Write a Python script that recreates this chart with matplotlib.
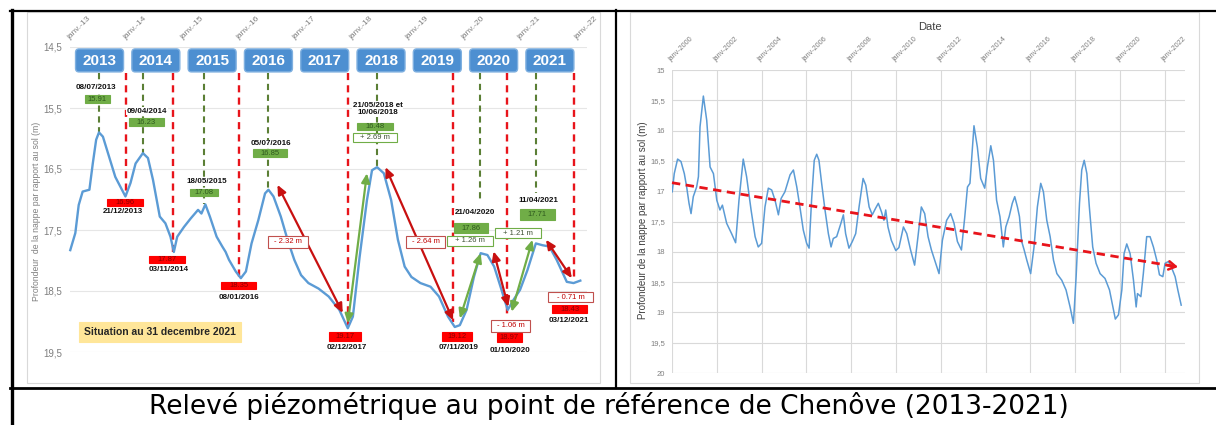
import matplotlib
matplotlib.use('Agg')
import matplotlib.pyplot as plt
from matplotlib.patches import Rectangle, FancyBboxPatch
from matplotlib.lines import Line2D

plt.rcParams['font.family'] = ['Liberation Sans', 'DejaVu Sans']

# ---------------- data: left chart (2013-2021) ----------------
left_years = [2012.98, 2013.07, 2013.13, 2013.20, 2013.32, 2013.38, 2013.44, 2013.49, 2013.56, 2013.65,
              2013.78, 2013.87, 2013.96, 2014.05, 2014.14, 2014.27, 2014.36, 2014.45, 2014.57, 2014.67,
              2014.76, 2014.82, 2014.88, 2015.00, 2015.12, 2015.25, 2015.31, 2015.38, 2015.46, 2015.58,
              2015.68, 2015.74, 2015.80, 2015.92, 2016.01, 2016.10, 2016.20, 2016.32, 2016.44, 2016.50,
              2016.59, 2016.72, 2016.84, 2016.96, 2017.08, 2017.21, 2017.39, 2017.57, 2017.76, 2017.91,
              2018.00, 2018.12, 2018.25, 2018.34, 2018.43, 2018.55, 2018.68, 2018.80, 2018.92, 2019.04,
              2019.20, 2019.38, 2019.53, 2019.69, 2019.81, 2019.90, 2020.02, 2020.15, 2020.27, 2020.39,
              2020.51, 2020.64, 2020.75, 2020.85, 2020.97, 2021.10, 2021.25, 2021.37, 2021.49, 2021.62,
              2021.80, 2021.92, 2022.04]
left_depth = [17.83, 17.55, 17.09, 16.87, 16.84, 16.41, 16.02, 15.90, 15.97, 16.24,
              16.63, 16.79, 16.95, 16.73, 16.41, 16.24, 16.32, 16.68, 17.28, 17.39,
              17.61, 17.86, 17.61, 17.45, 17.31, 17.17, 17.23, 17.08, 17.28, 17.61,
              17.77, 17.86, 17.99, 18.18, 18.29, 18.18, 17.72, 17.34, 16.90, 16.84,
              16.95, 17.28, 17.66, 17.99, 18.24, 18.37, 18.46, 18.59, 18.81, 19.11,
              18.92, 17.94, 17.01, 16.52, 16.47, 16.57, 17.01, 17.66, 18.10, 18.27,
              18.37, 18.43, 18.59, 18.92, 19.09, 19.06, 18.81, 18.27, 17.88, 17.91,
              18.10, 18.48, 18.81, 18.65, 18.48, 18.16, 17.72, 17.75, 17.77, 17.99,
              18.35, 18.37, 18.33]
left_tick_years = [2013, 2014, 2015, 2016, 2017, 2018, 2019, 2020, 2021, 2022]
left_tick_labels = ['janv.-13', 'janv.-14', 'janv.-15', 'janv.-16', 'janv.-17',
                    'janv.-18', 'janv.-19', 'janv.-20', 'janv.-21', 'janv.-22']
left_yticks = [14.5, 15.5, 16.5, 17.5, 18.5, 19.5]
left_ytick_labels = ['14,5', '15,5', '16,5', '17,5', '18,5', '19,5']
year_boxes = ['2013', '2014', '2015', '2016', '2017', '2018', '2019', '2020', '2021']

peak_dates = ['08/07/2013', '09/04/2014', '18/05/2015', '05/07/2016',
              '21/05/2018 et\n10/06/2018', '21/04/2020', '11/04/2021']
peak_values = ['15.91', '16.23', '17.08', '16.85', '16.48', '17.86', '17.71']
peak_years = [2013.49, 2014.28, 2015.36, 2016.50, 2018.43, 2020.25, 2021.26]
trough_dates = ['21/12/2013', '03/11/2014', '08/01/2016', '02/12/2017',
                '07/11/2019', '01/10/2020', '03/12/2021']
trough_values = ['16.96', '17.87', '18.35', '19.17', '19.12', '18.97', '18.43']
trough_years = [2013.97, 2014.80, 2015.98, 2017.92, 2019.78, 2020.73, 2021.92]
rise_labels = ['+ 2.69 m', '+ 1.26 m', '+ 1.21 m']
fall_labels = ['- 2.32 m', '- 2.64 m', '- 1.06 m', '- 0.71 m']
fall_arrows = [((2016.66, 16.76), (2017.82, 18.86)), ((2018.58, 16.47), (2019.78, 18.98)),
               ((2020.50, 17.85), (2020.76, 18.76)), ((2021.43, 17.66), (2021.89, 18.29))]
rise_arrows = [((2017.91, 19.03), (2018.25, 16.57)), ((2019.90, 18.95), (2020.27, 17.88)),
               ((2020.82, 18.84), (2021.19, 17.66))]
situation_text = 'Situation au 31 decembre 2021'

# ---------------- data: right chart (2000-2022) ----------------
right_years = [2000.01, 2000.10, 2000.25, 2000.40, 2000.55, 2000.65, 2000.76, 2000.85, 2000.95, 2001.10,
               2001.18, 2001.25, 2001.40, 2001.55, 2001.70, 2001.85, 2002.00, 2002.14, 2002.25, 2002.44,
               2002.66, 2002.84, 2002.99, 2003.18, 2003.33, 2003.53, 2003.71, 2003.85, 2004.00, 2004.15,
               2004.30, 2004.45, 2004.60, 2004.75, 2004.87, 2005.04, 2005.27, 2005.42, 2005.57, 2005.71,
               2005.86, 2006.01, 2006.12, 2006.23, 2006.35, 2006.46, 2006.56, 2006.68, 2006.83, 2006.98,
               2007.10, 2007.20, 2007.35, 2007.54, 2007.65, 2007.75, 2007.90, 2008.05, 2008.20, 2008.35,
               2008.53, 2008.65, 2008.80, 2008.94, 2009.09, 2009.21, 2009.35, 2009.46, 2009.54, 2009.64,
               2009.79, 2009.99, 2010.13, 2010.33, 2010.48, 2010.65, 2010.83, 2010.98, 2011.13, 2011.28,
               2011.43, 2011.58, 2011.77, 2011.92, 2012.07, 2012.26, 2012.44, 2012.59, 2012.74, 2012.92,
               2013.07, 2013.19, 2013.30, 2013.48, 2013.63, 2013.78, 2013.96, 2014.08, 2014.23, 2014.35,
               2014.49, 2014.64, 2014.79, 2014.90, 2015.05, 2015.19, 2015.30, 2015.42, 2015.51, 2015.61,
               2015.72, 2015.84, 2016.01, 2016.16, 2016.31, 2016.46, 2016.58, 2016.73, 2016.88, 2017.03,
               2017.18, 2017.40, 2017.59, 2017.77, 2017.92, 2018.04, 2018.19, 2018.29, 2018.40, 2018.52,
               2018.63, 2018.78, 2018.93, 2019.11, 2019.33, 2019.53, 2019.68, 2019.79, 2019.93, 2020.08,
               2020.18, 2020.30, 2020.45, 2020.60, 2020.72, 2020.78, 2020.93, 2021.04, 2021.19, 2021.34,
               2021.49, 2021.64, 2021.76, 2021.91, 2022.01, 2022.16, 2022.31, 2022.46, 2022.58, 2022.73]
right_depth = [17.01, 16.71, 16.47, 16.51, 16.71, 16.92, 17.20, 17.37, 17.09, 16.93,
               16.76, 15.94, 15.43, 15.83, 16.60, 16.71, 17.15, 17.31, 17.23, 17.53,
               17.70, 17.85, 17.15, 16.47, 16.76, 17.31, 17.75, 17.92, 17.86, 17.26,
               16.95, 16.98, 17.15, 17.39, 17.12, 17.01, 16.73, 16.65, 16.93, 17.26,
               17.64, 17.86, 17.94, 17.15, 16.49, 16.39, 16.49, 16.87, 17.31, 17.70,
               17.92, 17.78, 17.75, 17.53, 17.39, 17.70, 17.94, 17.83, 17.70, 17.26,
               16.79, 16.90, 17.26, 17.39, 17.28, 17.20, 17.34, 17.48, 17.31, 17.59,
               17.81, 17.98, 17.93, 17.59, 17.70, 17.97, 18.22, 17.75, 17.26, 17.37,
               17.75, 17.97, 18.19, 18.36, 17.81, 17.48, 17.37, 17.53, 17.83, 17.97,
               17.42, 16.93, 16.87, 15.92, 16.27, 16.79, 16.95, 16.60, 16.25, 16.49,
               17.15, 17.42, 17.92, 17.59, 17.42, 17.20, 17.09, 17.26, 17.42, 17.83,
               17.97, 18.14, 18.36, 17.92, 17.26, 16.87, 17.01, 17.48, 17.75, 18.14,
               18.36, 18.47, 18.63, 18.91, 19.18, 18.41, 17.20, 16.65, 16.49, 16.71,
               17.26, 17.92, 18.19, 18.36, 18.44, 18.63, 18.91, 19.11, 19.04, 18.63,
               18.03, 17.87, 18.03, 18.47, 18.91, 18.69, 18.74, 18.36, 17.75, 17.75,
               17.92, 18.14, 18.38, 18.41, 18.19, 18.16, 18.27, 18.41, 18.63, 18.88]
right_tick_years = [2000, 2002, 2004, 2006, 2008, 2010, 2012, 2014, 2016, 2018, 2020, 2022]
right_tick_labels = ['janv-2000', 'janv-2002', 'janv-2004', 'janv-2006', 'janv-2008', 'janv-2010',
                     'janv-2012', 'janv-2014', 'janv-2016', 'janv-2018', 'janv-2020', 'janv-2022']
right_yticks = [15, 15.5, 16, 16.5, 17, 17.5, 18, 18.5, 19, 19.5, 20]
right_ytick_labels = ['15', '15,5', '16', '16,5', '17', '17,5', '18', '18,5', '19', '19,5', '20']
trend_start = (2000.0, 16.86)
trend_end = (2022.59, 18.25)

caption = 'Relevé piézométrique au point de référence de Chenôve (2013-2021)'
ylabel_left = 'Profondeur  de la nappe par rapport au sol (m)'
ylabel_right = 'Profondeur de la nappe par rapport au sol (m)'

# ---------------- layout ----------------
W, H = 1216, 425
fig = plt.figure(figsize=(W / 100, H / 100), dpi=100)
fig.patch.set_facecolor('white')


def frect(x0, y0, x1, y1):
    return [x0 / W, 1 - y1 / H, (x1 - x0) / W, (y1 - y0) / H]


GRID = '#d9d9d9'
TICK = '#7f7f7f'
BLUE = '#5b9bd5'
RED = '#e8141b'
DKRED = '#c81010'
GREEN = '#70ad47'
OLIVE = '#5b7f35'

# chart frames
for (x0, y0, x1, y1) in [(27, 12, 600, 383), (630, 12, 1199, 383)]:
    fig.add_artist(Rectangle((x0 / W, 1 - y1 / H), (x1 - x0) / W, (y1 - y0) / H,
                             transform=fig.transFigure, fill=False, ec=GRID, lw=0.8))

# ---------- left chart ----------
LX0, LX1 = 2012.97, 2022.15
ax1 = fig.add_axes(frect(69.7, 47, 586.5, 352))
ax1.set_xlim(LX0, LX1)
ax1.set_ylim(19.5, 14.5)
for s in ax1.spines.values():
    s.set_visible(False)
ax1.set_yticks(left_yticks)
ax1.set_yticklabels(left_ytick_labels)
ax1.yaxis.grid(True, color='#e6e6e6', lw=0.8)
ax1.set_axisbelow(True)
ax1.xaxis.tick_top()
ax1.set_xticks(left_tick_years)
ax1.set_xticklabels(left_tick_labels)
ax1.tick_params(axis='x', length=0, pad=4.5, labelsize=6, labelcolor=TICK)
ax1.tick_params(axis='y', length=0, pad=5.5, labelsize=7, labelcolor=TICK)
plt.setp(ax1.get_xticklabels(), rotation=45, ha='left', va='bottom', rotation_mode='anchor')

PXY = 516.8 / (LX1 - LX0)   # px per year
PXM = 305 / 5.0             # px per metre


def box(ax, xc, yc, wpx, hpx, fc, ec, txt, tc, fs, lw=0.8, weight='normal', z=6):
    w = wpx / PXY
    h = hpx / PXM
    ax.add_patch(Rectangle((xc - w / 2, yc - h / 2), w, h, fc=fc, ec=ec, lw=lw,
                           zorder=z, clip_on=False))
    ax.text(xc, yc, txt, ha='center', va='center', color=tc, fontsize=fs,
            zorder=z + 1, clip_on=False, weight=weight)


# vertical dashed lines
green_line_bottom = [15.90, 16.24, 17.08, 16.84, 16.47, 17.06, 16.90]
for xv, yb in zip(peak_years, green_line_bottom):
    ax1.plot([xv, xv], [14.92, yb], color=OLIVE, lw=1.5, dashes=(3, 2.2), zorder=2, clip_on=False)
red_line_bottom = [16.95, 17.86, 18.30, 19.10, 19.00, 18.92, 18.30]
for xv, yb in zip(trough_years, red_line_bottom):
    ax1.plot([xv, xv], [14.92, yb], color=RED, lw=1.7, dashes=(3, 2.2), zorder=2, clip_on=False)

# main curve
ax1.plot(left_years, left_depth, color=BLUE, lw=1.7, zorder=3, clip_on=False)

# arrows
for (p0, p1) in fall_arrows:
    ax1.annotate('', xy=p1, xytext=p0, zorder=4,
                 arrowprops=dict(arrowstyle='<|-|>,head_length=0.55,head_width=0.25',
                                 color=DKRED, lw=1.6, mutation_scale=10, shrinkA=0, shrinkB=0))
for (p0, p1) in rise_arrows:
    ax1.annotate('', xy=p1, xytext=p0, zorder=4,
                 arrowprops=dict(arrowstyle='<|-|>,head_length=0.55,head_width=0.25',
                                 color=GREEN, lw=1.6, mutation_scale=10, shrinkA=0, shrinkB=0))

# year boxes
for lab in year_boxes:
    xc = int(lab) + 0.5
    w = 48 / PXY
    h = 23 / PXM
    ax1.add_patch(FancyBboxPatch((xc - w / 2, 14.72 - h / 2), w, h,
                                 boxstyle='round,pad=0,rounding_size=0.06',
                                 fc='#4d8fd1', ec='#7fb0e0', lw=1.0, zorder=6, clip_on=False))
    ax1.text(xc, 14.73, lab, ha='center', va='center', color='white', fontsize=11,
             weight='bold', zorder=7, clip_on=False)

# peak labels
peak_date_pos = [(2013.44, 15.17), (2014.34, 15.55), (2015.41, 16.70), (2016.55, 16.09),
                 (2018.44, 15.52), (2020.17, 17.22), (2021.29, 17.01)]
peak_box_pos = [(2013.46, 15.36, 25, 8), (2014.33, 15.73, 35, 8), (2015.36, 16.88, 28, 7),
                (2016.53, 16.24, 34, 8), (2018.39, 15.80, 36, 7), (2020.10, 17.47, 34, 10),
                (2021.28, 17.25, 35, 11)]
for txt, (xd, yd), val, (xb, yb, wb, hb) in zip(peak_dates, peak_date_pos, peak_values, peak_box_pos):
    ax1.text(xd, yd, txt, ha='center', va='center', fontsize=5.8, weight='bold', color='#111111',
             zorder=7, clip_on=False, linespacing=1.1,
             bbox=dict(boxstyle='square,pad=0.1', fc='white', ec='none'))
    box(ax1, xb, yb, wb, hb, GREEN, GREEN, val, '#2f5a1e', 5.5)

# trough labels
trough_box_pos = [(2013.95, 17.05, 36, 7), (2014.70, 17.99, 36, 7), (2015.97, 18.41, 35, 7),
                  (2017.86, 19.25, 32, 9), (2019.85, 19.25, 30, 9), (2020.78, 19.26, 25, 9),
                  (2021.85, 18.80, 35, 8)]
trough_date_pos = [(2013.92, 17.20), (2014.73, 18.14), (2015.98, 18.60), (2017.90, 19.43),
                   (2019.87, 19.43), (2020.79, 19.48), (2021.84, 18.99)]
for txt, (xd, yd), val, (xb, yb, wb, hb) in zip(trough_dates, trough_date_pos, trough_values, trough_box_pos):
    ax1.text(xd, yd, txt, ha='center', va='center', fontsize=5.8, weight='bold', color='#111111',
             zorder=7, clip_on=False)
    box(ax1, xb, yb, wb, hb, '#ff0000', '#ff0000', val, '#8a0000', 5.5)

# change boxes
rise_pos = [(2018.39, 15.98, 44, 9), (2020.08, 17.68, 46, 10), (2020.93, 17.55, 46, 10)]
for txt, (xb, yb, wb, hb) in zip(rise_labels, rise_pos):
    box(ax1, xb, yb, wb, hb, 'white', GREEN, txt, '#3d4f33', 5.5)
fall_pos = [(2016.85, 17.69, 40, 12), (2019.29, 17.69, 39, 12), (2020.80, 19.07, 39, 12),
            (2021.87, 18.60, 45, 10)]
for txt, (xb, yb, wb, hb) in zip(fall_labels, fall_pos):
    box(ax1, xb, yb, wb, hb, 'white', '#c0504d', txt, '#c00000', 5.5)

# situation box
box(ax1, 2014.57, 19.18, 162, 20, '#ffe699', '#ffe699', situation_text, '#262626', 7.5, weight='bold')

fig.text(37 / W, 1 - 211 / H, ylabel_left, rotation=90, ha='center', va='center',
         fontsize=6.2, color=TICK)

# ---------- right chart ----------
ax2 = fig.add_axes(frect(672, 70, 1185, 373))
ax2.set_xlim(2000, 2022.9)
ax2.set_ylim(20, 15)
for s in ax2.spines.values():
    s.set_visible(False)
ax2.set_yticks(right_yticks)
ax2.set_yticklabels(right_ytick_labels)
ax2.xaxis.tick_top()
ax2.set_xticks(right_tick_years)
ax2.set_xticklabels(right_tick_labels)
ax2.grid(True, color=GRID, lw=0.8)
ax2.set_axisbelow(True)
ax2.tick_params(axis='x', length=0, pad=5, labelsize=5.2, labelcolor=TICK)
ax2.tick_params(axis='y', length=0, pad=5, labelsize=5.5, labelcolor=TICK)
plt.setp(ax2.get_xticklabels(), rotation=45, ha='left', va='bottom', rotation_mode='anchor')

ax2.plot(right_years, right_depth, color=BLUE, lw=1.1, zorder=3)
ax2.plot([trend_start[0], trend_end[0]], [trend_start[1], trend_end[1]], color=RED, lw=2.0,
         dashes=(3, 2), zorder=4, clip_on=False)
slope = (trend_end[1] - trend_start[1]) / (trend_end[0] - trend_start[0])
ax2.annotate('', xy=trend_end, xytext=(trend_end[0] - 0.5, trend_end[1] - slope * 0.5), zorder=4,
             arrowprops=dict(arrowstyle='->,head_length=0.5,head_width=0.3', color=RED, lw=1.8,
                             mutation_scale=10, shrinkA=0, shrinkB=0))

fig.text(930 / W, 1 - 27 / H, 'Date', ha='center', va='center', fontsize=8, color='#404040')
fig.text(643 / W, 1 - 220 / H, ylabel_right, rotation=90, ha='center', va='center',
         fontsize=7, color='#404040')

# ---------- table borders ----------
for (x0, y0, x1, y1, lw) in [(10, 10.5, 1216, 10.5, 1.6), (11.5, 10, 11.5, 425, 2.4),
                             (616, 10, 616, 388, 1.6), (10, 388, 1216, 388, 2.0)]:
    fig.add_artist(Line2D([x0 / W, x1 / W], [1 - y0 / H, 1 - y1 / H], transform=fig.transFigure,
                          color='black', lw=lw))

fig.text(609 / W, 1 - 406 / H, caption, ha='center', va='center', fontsize=19,
         family='DejaVu Sans', color='black')

fig.savefig('out.png', dpi=100)
